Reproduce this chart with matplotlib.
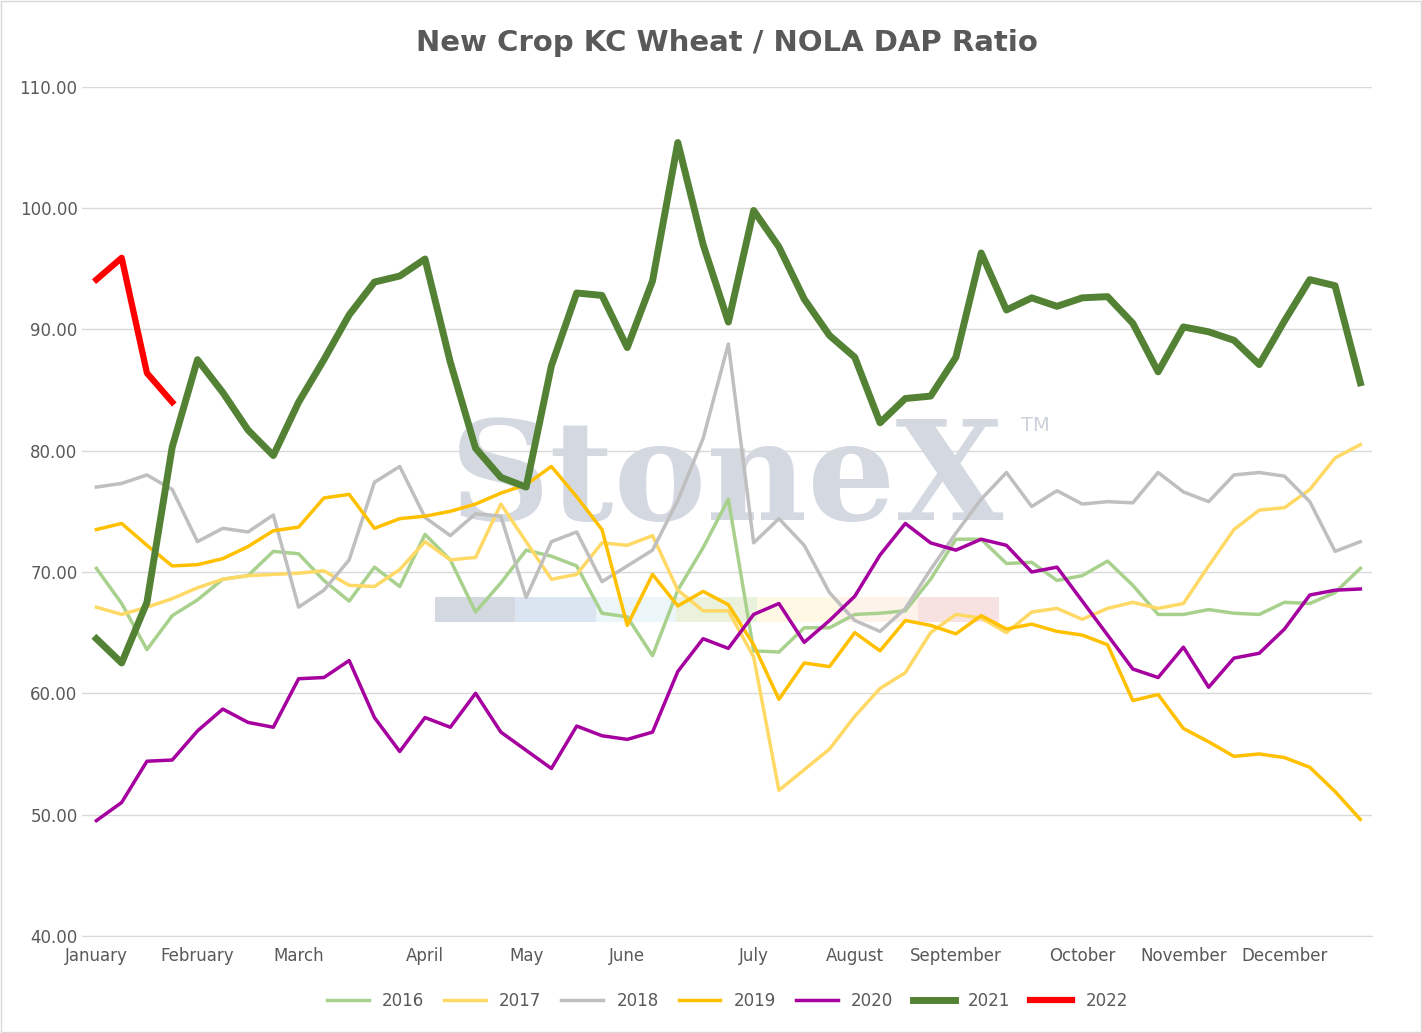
import matplotlib.pyplot as plt
import numpy as np

months = ["January", "February", "March", "April", "May", "June", "July",
          "August", "September", "October", "November", "December"]
month_idx = [0, 4, 8, 13, 17, 21, 26, 30, 34, 39, 43, 47]

s2016 = [70.3, 67.4, 63.6, 66.4, 67.7, 69.4, 69.7, 71.7, 71.5, 69.3,
         67.6, 70.4, 68.8, 73.1, 71.0, 66.7, 69.1, 71.8, 71.3, 70.5,
         66.6, 66.3, 63.1, 68.5, 72.0, 76.0, 63.5, 63.4, 65.4, 65.4,
         66.5, 66.6, 66.8, 69.4, 72.7, 72.7, 70.7, 70.8, 69.3, 69.7,
         70.9, 68.9, 66.5, 66.5, 66.9, 66.6, 66.5, 67.5, 67.4, 68.3, 70.3]
s2017 = [67.1, 66.5, 67.1, 67.8, 68.7, 69.4, 69.7, 69.8, 69.9, 70.1,
         68.9, 68.8, 70.2, 72.5, 71.0, 71.2, 75.6, 72.5, 69.4, 69.8,
         72.4, 72.2, 73.0, 68.5, 66.8, 66.8, 63.0, 52.0, 53.7, 55.4,
         58.1, 60.4, 61.7, 65.0, 66.5, 66.2, 65.0, 66.7, 67.0, 66.1,
         67.0, 67.5, 67.0, 67.4, 70.5, 73.5, 75.1, 75.3, 76.8, 79.4, 80.5]
s2018 = [77.0, 77.3, 78.0, 76.8, 72.5, 73.6, 73.3, 74.7, 67.1, 68.5,
         71.0, 77.4, 78.7, 74.5, 73.0, 74.8, 74.6, 67.9, 72.5, 73.3,
         69.2, 70.5, 71.8, 75.9, 81.0, 88.8, 72.4, 74.4, 72.2, 68.3,
         66.0, 65.1, 67.0, 70.2, 73.2, 76.0, 78.2, 75.4, 76.7, 75.6,
         75.8, 75.7, 78.2, 76.6, 75.8, 78.0, 78.2, 77.9, 75.8, 71.7, 72.5]
s2019 = [73.5, 74.0, 72.2, 70.5, 70.6, 71.1, 72.1, 73.4, 73.7, 76.1,
         76.4, 73.6, 74.4, 74.6, 75.0, 75.6, 76.5, 77.2, 78.7, 76.2,
         73.5, 65.6, 69.8, 67.2, 68.4, 67.3, 64.0, 59.5, 62.5, 62.2,
         65.0, 63.5, 66.0, 65.6, 64.9, 66.4, 65.3, 65.7, 65.1, 64.8,
         64.0, 59.4, 59.9, 57.1, 56.0, 54.8, 55.0, 54.7, 53.9, 51.9, 49.6]
s2020 = [49.5, 51.0, 54.4, 54.5, 56.9, 58.7, 57.6, 57.2, 61.2, 61.3,
         62.7, 58.0, 55.2, 58.0, 57.2, 60.0, 56.8, 55.3, 53.8, 57.3,
         56.5, 56.2, 56.8, 61.8, 64.5, 63.7, 66.5, 67.4, 64.2, 66.0,
         68.0, 71.4, 74.0, 72.4, 71.8, 72.7, 72.2, 70.0, 70.4, 67.6,
         64.8, 62.0, 61.3, 63.8, 60.5, 62.9, 63.3, 65.3, 68.1, 68.5, 68.6]
s2021 = [64.5, 62.5, 67.5, 80.3, 87.5, 84.8, 81.7, 79.6, 84.0, 87.5,
         91.2, 93.9, 94.4, 95.8, 87.3, 80.2, 77.8, 77.0, 87.0, 93.0,
         92.8, 88.5, 94.0, 105.4, 97.0, 90.6, 99.8, 96.8, 92.5, 89.5,
         87.7, 82.3, 84.3, 84.5, 87.7, 96.3, 91.6, 92.6, 91.9, 92.6,
         92.7, 90.5, 86.5, 90.2, 89.8, 89.1, 87.1, 90.7, 94.1, 93.6, 85.6]
s2022 = [94.1, 95.9, 86.4, 84.0]

series = [("2016", s2016, "#a9d18e", 2.5), ("2017", s2017, "#ffd966", 2.5),
          ("2018", s2018, "#bfbfbf", 2.5), ("2019", s2019, "#ffc000", 2.5),
          ("2020", s2020, "#a5009f", 2.5), ("2021", s2021, "#548235", 5),
          ("2022", s2022, "#ff0000", 4.5)]

fig = plt.figure(figsize=(14.22, 10.33), dpi=100)
ax = fig.add_axes([0.058, 0.094, 0.907, 0.822])

# watermark
ax.text(0.5, 0.535, "StoneX", transform=ax.transAxes, fontsize=100,
        family="DejaVu Serif", fontweight="bold", color="#aab4c4",
        alpha=0.5, ha="center", va="center", zorder=0)
ax.text(0.728, 0.595, "TM", transform=ax.transAxes, fontsize=14, color="#aab4c4",
        alpha=0.6, zorder=0)
wm = ["#aab4c4", "#b8cce4", "#dbeef4", "#d7e4bd", "#fff2cc", "#fde9d9", "#f2c4c4"]
for k, c in enumerate(wm):
    ax.axhspan(65.9, 67.9, xmin=0.273 + k * 0.0625, xmax=0.273 + (k + 1) * 0.0625,
               color=c, alpha=0.5, zorder=0, lw=0)

for name, vals, col, lw in series:
    ax.plot(np.arange(len(vals)), vals, color=col, lw=lw, label=name,
            solid_joinstyle="round", zorder=2)

ax.set_ylim(40, 110)
ax.set_xlim(-0.55, 50.47)
ax.set_yticks(np.arange(40, 111, 10))
ax.set_yticklabels([f"{v:.2f}" for v in np.arange(40, 111, 10)])
ax.set_xticks(month_idx)
ax.set_xticklabels(months)
ax.grid(axis="y", color="#d9d9d9", lw=1)
for s in ax.spines.values():
    s.set_visible(False)
ax.spines["bottom"].set_visible(True)
ax.spines["bottom"].set_color("#d9d9d9")
ax.tick_params(length=0, colors="#595959", labelsize=12)
ax.tick_params(axis="x", pad=8)
ax.set_title("New Crop KC Wheat / NOLA DAP Ratio", fontsize=21, fontweight="bold",
             color="#595959", pad=26)
ax.legend(loc="upper center", bbox_to_anchor=(0.5, -0.048), ncol=7, frameon=False,
          fontsize=12, handlelength=2.5, labelcolor="#595959", columnspacing=1.2)
fig.patches.append(plt.Rectangle((0.001, 0.001), 0.998, 0.998, transform=fig.transFigure,
                                 fill=False, edgecolor="#d9d9d9", lw=1))
fig.savefig("out.png")
